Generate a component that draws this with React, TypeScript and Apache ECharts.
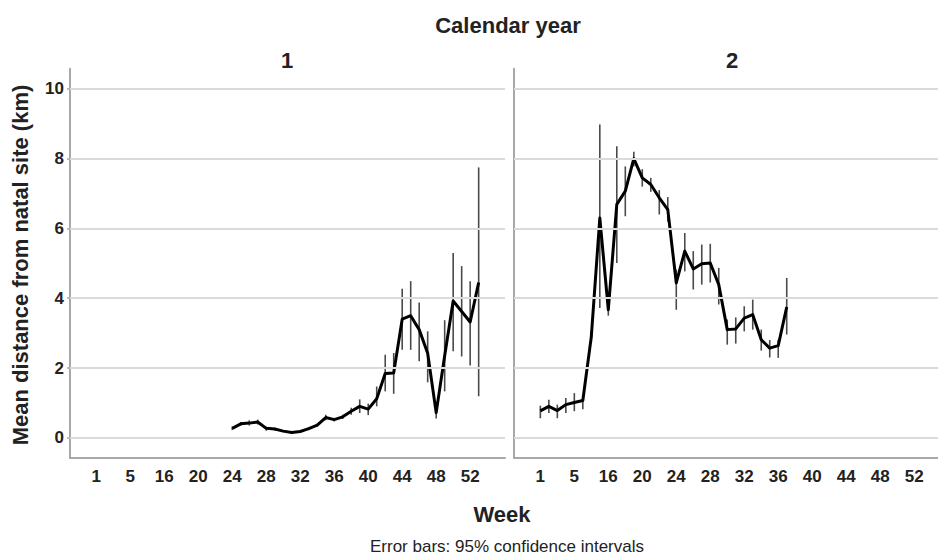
import React, { useEffect, useRef } from "react";
import * as echarts from "echarts";

// Week categories on the shared x axis (positions 0..45)
const weeks: string[] = [
  "1", "2", "3", "4", "5", "6", "14", "15",
  "16", "17", "18", "19", "20", "21", "22", "23", "24", "25", "26", "27", "28", "29",
  "30", "31", "32", "33", "34", "35", "36", "37", "38", "39", "40", "41", "42", "43",
  "44", "45", "46", "47", "48", "49", "50", "51", "52", "53",
];
const xLabelPositions: number[] = [0, 4, 8, 12, 16, 20, 24, 28, 32, 36, 40, 44];
const yTicks: number[] = [0, 2, 4, 6, 8, 10];

// Calendar year 1 (weeks 24..53)
const year1Mean: (number | null)[] = [
  null, null, null, null, null, null, null, null,
  null, null, null, null, null, null, null, null,
  0.27, 0.40, 0.42, 0.45, 0.27, 0.25, 0.19, 0.15, 0.18, 0.26,
  0.36, 0.58, 0.52, 0.60, 0.76, 0.90, 0.82, 1.12, 1.84, 1.86,
  3.40, 3.50, 3.10, 2.42, 0.72, 2.35, 3.92, 3.62, 3.32, 4.45,
];
const year1Low: (number | null)[] = [
  null, null, null, null, null, null, null, null,
  null, null, null, null, null, null, null, null,
  0.22, 0.35, 0.35, 0.38, 0.20, 0.21, 0.16, 0.12, 0.15, 0.22,
  0.32, 0.50, 0.47, 0.54, 0.66, 0.71, 0.65, 0.90, 1.33, 1.26,
  2.52, 2.52, 2.19, 1.59, 0.55, 1.33, 2.48, 2.33, 2.07, 1.19,
];
const year1High: (number | null)[] = [
  null, null, null, null, null, null, null, null,
  null, null, null, null, null, null, null, null,
  0.32, 0.45, 0.50, 0.52, 0.32, 0.29, 0.22, 0.18, 0.21, 0.30,
  0.40, 0.66, 0.57, 0.66, 0.86, 1.10, 0.98, 1.47, 2.38, 2.43,
  4.27, 4.49, 3.88, 3.05, 0.90, 3.37, 5.30, 4.92, 4.49, 7.75,
];

// Calendar year 2 (weeks 1..37)
const year2Mean: (number | null)[] = [
  0.77, 0.90, 0.78, 0.95, 1.01, 1.07, 2.90, 6.30,
  3.67, 6.69, 7.07, 8.00, 7.45, 7.26, 6.88, 6.54, 4.44, 5.35, 4.84, 4.99,
  5.01, 4.39, 3.10, 3.12, 3.43, 3.53, 2.81, 2.57, 2.64, 3.75,
];
const year2Low: (number | null)[] = [
  0.56, 0.71, 0.56, 0.71, 0.76, 0.82, 2.75, 3.72,
  3.50, 5.01, 6.35, 7.78, 7.20, 7.05, 6.40, 6.20, 3.67, 4.77, 4.25, 4.39,
  4.45, 3.82, 2.67, 2.70, 3.05, 3.10, 2.50, 2.30, 2.29, 2.96,
];
const year2High: (number | null)[] = [
  0.92, 1.09, 0.95, 1.14, 1.28, 1.19, 3.05, 8.98,
  3.85, 8.36, 7.78, 8.20, 7.70, 7.45, 7.10, 6.90, 4.82, 5.87, 5.35, 5.54,
  5.56, 4.87, 3.39, 3.45, 3.77, 3.96, 3.10, 2.80, 2.81, 4.58,
];

const FONT = "'Liberation Sans', Arial, Helvetica, sans-serif";
const TEXT = "#222222";
const AXIS = "#a8a8a8";
const GRID = "#dadada";

function lineData(vals: (number | null)[]) {
  return vals.map((v, i) => [i, v == null ? "-" : v]);
}
function barData(lo: (number | null)[], hi: (number | null)[]) {
  const out: number[][] = [];
  lo.forEach((l, i) => {
    const h = hi[i];
    if (l != null && h != null) out.push([i, l, h]);
  });
  return out;
}

function renderBar(params: any, api: any) {
  const x = api.value(0);
  const p1 = api.coord([x, api.value(1)]);
  const p2 = api.coord([x, api.value(2)]);
  return {
    type: "line",
    shape: { x1: p1[0], y1: p1[1], x2: p2[0], y2: p2[1] },
    style: { stroke: "#4a4a4a", lineWidth: 1.6 },
  };
}

export default function App() {
  const ref = useRef<HTMLDivElement>(null);

  useEffect(() => {
    if (!ref.current) return;
    const chart = echarts.init(ref.current, undefined, { renderer: "svg" });

    const gridTop = 68.7;
    const gridH = 389.3;
    const xAxisCommon = (gi: number) => ({
      type: "value",
      gridIndex: gi,
      min: -3.1,
      max: 48.1,
      axisLine: { show: true, onZero: false, lineStyle: { color: AXIS, width: 2 } },
      axisTick: { show: false },
      splitLine: { show: false },
      axisLabel: {
        customValues: xLabelPositions,
        formatter: (v: number) => weeks[Math.round(v)] ?? "",
        color: TEXT,
        fontFamily: FONT,
        fontWeight: "bold",
        fontSize: 17,
        margin: 10,
      },
    });
    const yAxisCommon = (gi: number, labels: boolean) => ({
      type: "value",
      gridIndex: gi,
      min: -0.58,
      max: 10.58,
      axisLine: { show: true, onZero: false, lineStyle: { color: AXIS, width: 2 } },
      axisTick: {
        show: labels,
        customValues: yTicks,
        length: 3,
        lineStyle: { color: AXIS, width: 1.5 },
      },
      splitLine: { show: false },
      axisLabel: {
        show: labels,
        customValues: yTicks,
        color: TEXT,
        fontFamily: FONT,
        fontWeight: "bold",
        fontSize: 17,
        margin: 6,
      },
    });

    const gridMark = {
      silent: true,
      symbol: "none",
      label: { show: false },
      lineStyle: { color: GRID, width: 2, type: "solid" },
      data: yTicks.map((t) => ({ yAxis: t })),
    };

    const titleStyle = (text: string, size: number, bold: boolean) => ({
      text,
      fill: TEXT,
      fontFamily: FONT,
      fontWeight: bold ? "bold" : "normal",
      fontSize: size,
      align: "center",
      verticalAlign: "middle",
    });

    chart.setOption({
      animation: false,
      backgroundColor: "#ffffff",
      grid: [
        { left: 70, top: gridTop, width: 435, height: gridH },
        { left: 514, top: gridTop, width: 435, height: gridH },
      ],
      xAxis: [xAxisCommon(0), xAxisCommon(1)],
      yAxis: [yAxisCommon(0, true), yAxisCommon(1, false)],
      series: [
        {
          type: "custom",
          xAxisIndex: 0,
          yAxisIndex: 0,
          renderItem: renderBar,
          data: barData(year1Low, year1High),
          encode: { x: 0, y: [1, 2] },
          z: 2,
          markLine: gridMark,
        },
        {
          type: "line",
          xAxisIndex: 0,
          yAxisIndex: 0,
          data: lineData(year1Mean),
          showSymbol: false,
          symbol: "none",
          lineStyle: { color: "#000", width: 3, join: "round" },
          z: 3,
        },
        {
          type: "custom",
          xAxisIndex: 1,
          yAxisIndex: 1,
          renderItem: renderBar,
          data: barData(year2Low, year2High),
          encode: { x: 0, y: [1, 2] },
          z: 2,
          markLine: gridMark,
        },
        {
          type: "line",
          xAxisIndex: 1,
          yAxisIndex: 1,
          data: lineData(year2Mean),
          showSymbol: false,
          symbol: "none",
          lineStyle: { color: "#000", width: 3, join: "round" },
          z: 3,
        },
      ],
      graphic: [
        { type: "text", x: 508, y: 25, style: titleStyle("Calendar year", 22, true) },
        { type: "text", x: 287, y: 60, style: titleStyle("1", 22, true) },
        { type: "text", x: 732, y: 60, style: titleStyle("2", 22, true) },
        {
          type: "text",
          x: 20,
          y: 265,
          rotation: Math.PI / 2,
          style: titleStyle("Mean distance from natal site (km)", 22, true),
        },
        { type: "text", x: 502, y: 514, style: titleStyle("Week", 22, true) },
        {
          type: "text",
          x: 507,
          y: 546,
          style: titleStyle("Error bars: 95% confidence intervals", 17, false),
        },
      ],
    });

    return () => chart.dispose();
  }, []);

  return (
    <div
      style={{
        position: "absolute",
        left: 0,
        top: 0,
        width: 938,
        height: 555,
        overflow: "hidden",
        background: "#fff",
      }}
    >
      <div ref={ref} style={{ width: 950, height: 555 }} />
    </div>
  );
}
